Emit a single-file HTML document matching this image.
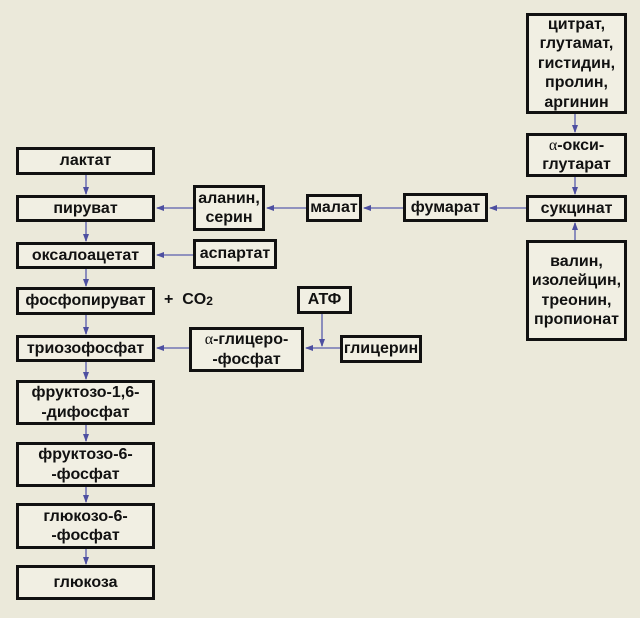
<!DOCTYPE html>
<html><head><meta charset="utf-8">
<style>
html,body{margin:0;padding:0;}
body{width:640px;height:618px;background:#ebe9da;position:relative;overflow:hidden;font-family:"Liberation Sans",Arial,sans-serif;font-weight:bold;color:#111;}
.b{position:absolute;box-sizing:border-box;border:3px solid #111;background:#f1efe3;display:flex;align-items:center;justify-content:center;text-align:center;font-size:16px;line-height:19.5px;white-space:nowrap;}
.a{font-family:"Liberation Serif",serif;font-weight:normal;}
svg{position:absolute;left:0;top:0;}
.t{position:absolute;font-size:16px;white-space:nowrap;}
</style></head><body>
<svg width="640" height="618" viewBox="0 0 640 618">
<defs>
<marker id="h" markerWidth="8" markerHeight="6" refX="7" refY="3" orient="auto" markerUnits="userSpaceOnUse">
<path d="M0,0 L8,3 L0,6 Z" fill="#4d4fa0"/>
</marker>
</defs>
<g stroke="#7376b4" stroke-width="1.6" fill="none" marker-end="url(#h)">
<line x1="86" y1="175" x2="86" y2="194"/>
<line x1="86" y1="222" x2="86" y2="241"/>
<line x1="86" y1="269" x2="86" y2="286"/>
<line x1="86" y1="315" x2="86" y2="334"/>
<line x1="86" y1="362" x2="86" y2="379"/>
<line x1="86" y1="425" x2="86" y2="441"/>
<line x1="86" y1="487" x2="86" y2="502"/>
<line x1="86" y1="549" x2="86" y2="564"/>
<line x1="193" y1="208" x2="157" y2="208"/>
<line x1="193" y1="255" x2="157" y2="255"/>
<line x1="189" y1="348" x2="157" y2="348"/>
<line x1="306" y1="208" x2="267" y2="208"/>
<line x1="403" y1="208" x2="364" y2="208"/>
<line x1="526" y1="208" x2="490" y2="208"/>
<line x1="575" y1="114" x2="575" y2="132"/>
<line x1="575" y1="177" x2="575" y2="194"/>
<line x1="575" y1="240" x2="575" y2="223"/>
<line x1="322" y1="314" x2="322" y2="346"/>
<line x1="340" y1="348" x2="306" y2="348"/>
</g>
</svg>

<div class="b" style="left:16px;top:147px;width:139px;height:28px;">лактат</div>
<div class="b" style="left:16px;top:195px;width:139px;height:27px;">пируват</div>
<div class="b" style="left:16px;top:242px;width:139px;height:27px;">оксалоацетат</div>
<div class="b" style="left:16px;top:287px;width:139px;height:28px;">фосфопируват</div>
<div class="b" style="left:16px;top:335px;width:139px;height:27px;">триозофосфат</div>
<div class="b" style="left:16px;top:380px;width:139px;height:45px;">фруктозо-1,6-<br>-дифосфат</div>
<div class="b" style="left:16px;top:442px;width:139px;height:45px;">фруктозо-6-<br>-фосфат</div>
<div class="b" style="left:16px;top:503px;width:139px;height:46px;">глюкозо-6-<br>-фосфат</div>
<div class="b" style="left:16px;top:565px;width:139px;height:35px;">глюкоза</div>

<div class="b" style="left:193px;top:185px;width:72px;height:46px;">аланин,<br>серин</div>
<div class="b" style="left:193px;top:239px;width:84px;height:30px;">аспартат</div>
<div class="b" style="left:189px;top:327px;width:115px;height:45px;"><span><span class="a">α</span>-глицеро-<br>-фосфат</span></div>
<div class="b" style="left:306px;top:194px;width:56px;height:28px;">малат</div>
<div class="b" style="left:403px;top:193px;width:85px;height:29px;">фумарат</div>
<div class="b" style="left:297px;top:286px;width:55px;height:28px;">АТФ</div>
<div class="b" style="left:340px;top:335px;width:82px;height:28px;">глицерин</div>

<div class="b" style="left:526px;top:13px;width:101px;height:101px;">цитрат,<br>глутамат,<br>гистидин,<br>пролин,<br>аргинин</div>
<div class="b" style="left:526px;top:133px;width:101px;height:44px;"><span><span class="a">α</span>-окси-<br>глутарат</span></div>
<div class="b" style="left:526px;top:195px;width:101px;height:27px;">сукцинат</div>
<div class="b" style="left:526px;top:240px;width:101px;height:101px;">валин,<br>изолейцин,<br>треонин,<br>пропионат</div>

<div class="t" style="left:164px;top:291px;">+&nbsp;&nbsp;CO<span style="font-size:12px;position:relative;top:1px;">2</span></div>
</body></html>
